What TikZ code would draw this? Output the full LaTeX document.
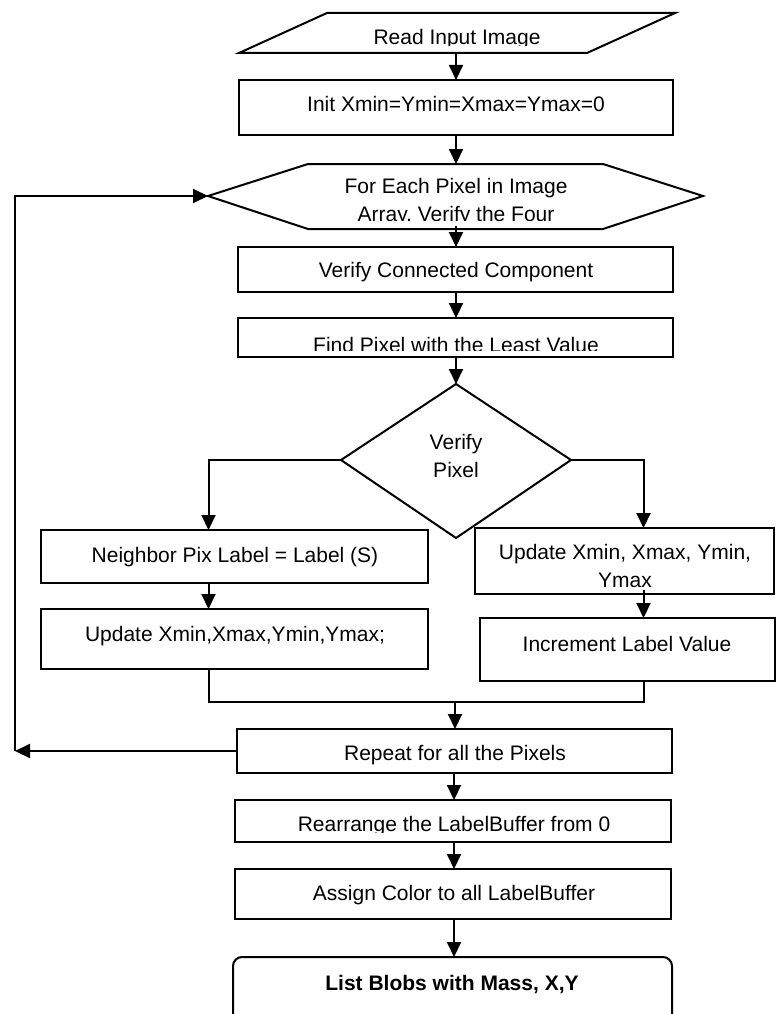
\documentclass[tikz,border=0pt]{standalone}
\usepackage{fontspec}
\setmainfont{Liberation Sans}
\usetikzlibrary{arrows.meta}
\begin{document}
\begin{tikzpicture}[x=1pt,y=-1pt,line width=2pt,
  box/.style={draw,rectangle,inner sep=0pt,outer sep=0pt,anchor=north west},
  txt/.style={anchor=base,inner sep=0pt,outer sep=0pt,font=\fontsize{21}{27.5}\selectfont},
  btxt/.style={txt,font=\fontsize{21}{27.5}\selectfont\bfseries},
  arr/.style={-{Triangle[length=15pt,width=14pt]}}]
\clip (0,0) rectangle (779,1014);
\fill[white] (0,0) rectangle (779,1014);
% column helpers
\coordinate (cx) at (456,0);
\coordinate (cx2) at (454,0);
\coordinate (lcol) at (208.5,460);
\coordinate (rcol) at (643.5,460);
% parallelogram (input)
\draw (327,13) -- (675,13) -- (587,53) -- (239,53) -- cycle;
\coordinate (readb) at (456,53);
\begin{scope}
\clip (200,0) rectangle (720,45.5);
\node[txt] (tread) at (457,45) {Read Input Image};
\end{scope}
% init box
\node[box,minimum width=434pt,minimum height=55pt] (init) at (239,80) {};
\node[txt] (tinit) at (456,112) {Init Xmin=Ymin=Xmax=Ymax=0};
% hexagon
\coordinate (hexl) at (208,196);
\coordinate (hext) at (456,164);
\coordinate (hexb) at (456,226);
\draw (hexl) -- (308,164) -- (603,164) -- (703,196) -- (603,229) -- (308,229) -- cycle;
\node[txt] (th1) at (456,193) {For Each Pixel in Image};
\begin{scope}
\clip (200,200) rectangle (720,220);
\node[txt] (th2) at (456,221) {Array, Verify the Four};
\end{scope}
% verify connected component
\node[box,minimum width=435pt,minimum height=45pt] (vcc) at (238,247) {};
\node[txt] (tvcc) at (456,277) {Verify Connected Component};
% find pixel
\node[box,minimum width=435pt,minimum height=39pt] (find) at (238,318) {};
\begin{scope}
\clip (238,318) rectangle (673,350.5);
\node[txt] (tfind) at (456,352.5) {Find Pixel with the Least Value};
\end{scope}
% diamond
\coordinate (dt) at (456,384);
\coordinate (dr) at (571,460);
\coordinate (db) at (456,538);
\coordinate (dl) at (341,460);
\draw (dt) -- (dr) -- (db) -- (dl) -- cycle;
\node[txt] (tv1) at (456,449.5) {Verify};
\node[txt] (tv2) at (456,477) {Pixel};
% left boxes
\node[box,minimum width=387pt,minimum height=53pt] (nb) at (41,530) {};
\node[txt] (tnb) at (235,562) {Neighbor Pix Label = Label (S)};
\node[box,minimum width=387pt,minimum height=60pt] (ub) at (41,609) {};
\node[txt] (tub) at (235,641) {Update Xmin,Xmax,Ymin,Ymax;};
% right boxes
\node[box,minimum width=299pt,minimum height=66pt] (ur) at (475,528) {};
\node[txt] (tur1) at (625,559) {Update Xmin, Xmax, Ymin,};
\begin{scope}
\clip (475,528) rectangle (774,586);
\node[txt] (tur2) at (625,587) {Ymax};
\end{scope}
\node[box,minimum width=295pt,minimum height=63pt] (inc) at (480,618) {};
\node[txt] (tinc) at (627,651) {Increment Label Value};
% repeat
\node[box,minimum width=435pt,minimum height=44pt] (rep) at (237,729) {};
\node[txt] (trep) at (455,760) {Repeat for all the Pixels};
% rearrange
\node[box,minimum width=436pt,minimum height=42pt] (rea) at (235,800) {};
\begin{scope}
\clip (235,800) rectangle (671,832);
\node[txt] (trea) at (454,831) {Rearrange the LabelBuffer from 0};
\end{scope}
% assign
\node[box,minimum width=436pt,minimum height=50pt] (asg) at (235,869) {};
\node[txt] (tasg) at (454,900) {Assign Color to all LabelBuffer};
% list blobs
\node[box,rounded corners=9pt,minimum width=439pt,minimum height=80pt] (lst) at (233,957) {};
\node[btxt] (tlst) at (452,990) {List Blobs with Mass, X,Y};
% connectors
\draw[arr] (readb) -- (init.north -| readb);
\draw[arr] (init.south -| cx) -- (hext);
\draw[arr] (hexb) -- (vcc.north -| cx);
\draw[arr] (vcc.south -| cx) -- (find.north -| cx);
\draw[arr] (find.south -| cx) -- (dt);
\draw[arr] (dl) -- (lcol) -- (nb.north -| lcol);
\draw[arr] (dr) -- (rcol) -- (ur.north -| rcol);
\draw[arr] (nb.south -| lcol) -- (ub.north -| lcol);
\draw[arr] ([yshift=4pt]ur.south -| rcol) -- (inc.north -| rcol);
\coordinate (mj) at (455,702);
\draw (ub.south -| lcol) |- (mj) -| (inc.south -| rcol);
\draw[arr] (mj) -- (rep.north -| mj);
\coordinate (fbb) at (15,751);
\draw[arr] (rep.west) -- (fbb);
\draw[arr] (fbb) |- (hexl);
\draw[arr] (rep.south -| cx2) -- (rea.north -| cx2);
\draw[arr] (rea.south -| cx2) -- (asg.north -| cx2);
\draw[arr] (asg.south -| cx2) -- (lst.north -| cx2);
\end{tikzpicture}
\end{document}
